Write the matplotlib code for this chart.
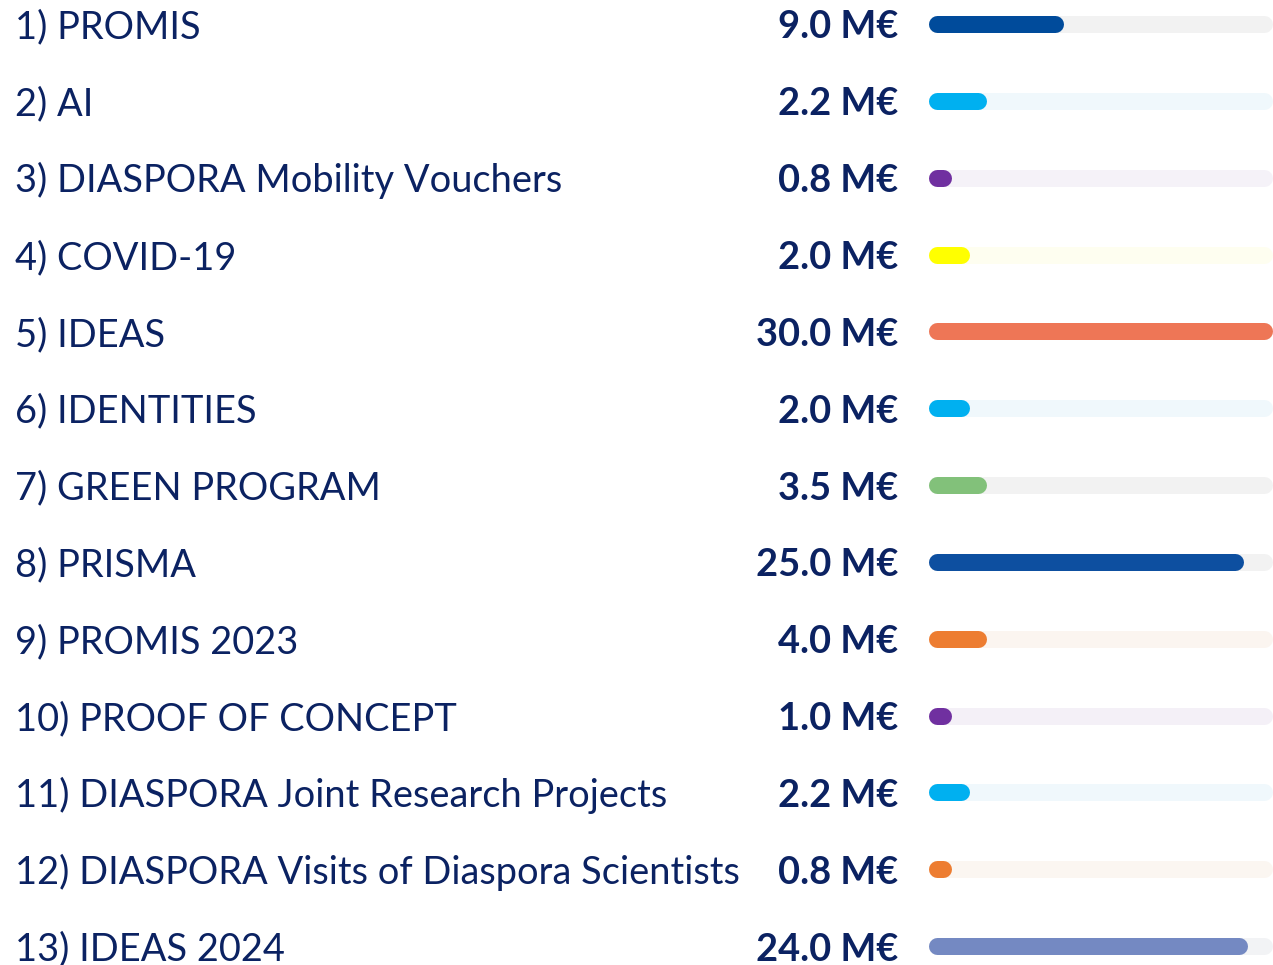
import matplotlib.pyplot as plt
from matplotlib.transforms import blended_transform_factory

labels = ['1) PROMIS', '2) AI', '3) DIASPORA Mobility Vouchers', '4) COVID-19',
          '5) IDEAS', '6) IDENTITIES', '7) GREEN PROGRAM', '8) PRISMA',
          '9) PROMIS 2023', '10) PROOF OF CONCEPT',
          '11) DIASPORA Joint Research Projects',
          '12) DIASPORA Visits of Diaspora Scientists', '13) IDEAS 2024']
budget = [9.0, 2.2, 0.8, 2.0, 30.0, 2.0, 3.5, 25.0, 4.0, 1.0, 2.2, 0.8, 24.0]
# bar fill (% of track) as drawn in the picture
fill_pct = [39.4, 17, 6.7, 12, 100, 12, 17, 91.6, 17, 6.7, 12, 6.7, 93]
bar_colors = ['#004b9b', '#00b0f0', '#7030a0', '#ffff00', '#ee7656', '#00b0f0',
              '#82c17a', '#0d4fa0', '#ed7d31', '#7030a0', '#00b0f0', '#ed7d31',
              '#7489c2']
track_colors = ['#f2f2f2', '#f0f8fc', '#f5f2f8', '#fefef0', '#f2f2f2', '#f0f8fc',
                '#f2f2f2', '#f2f2f2', '#fbf5f0', '#f4f0f7', '#f0f8fc', '#fbf6f1',
                '#f2f3f5']

navy = '#0b2262'
W, H = 1273, 965
fig = plt.figure(figsize=(W / 100, H / 100), dpi=100)
ax = fig.add_axes([928 / W, 0, (1272 - 928) / W, 1])
ax.set_xlim(0, 100)
n = len(labels)
step = (946 - 24) / (n - 1)
ax.set_ylim(n - 1 + (H - 946) / step, -24 / step)
ax.axis('off')

lw_px = 17
r = lw_px / 2 / ((1272 - 928) / 100)  # cap radius in data units
lw_pt = lw_px * 72 / 100

for i in range(n):
    ax.plot([r, 100 - r], [i, i], color=track_colors[i], lw=lw_pt,
            solid_capstyle='round', clip_on=False)
    end = max(fill_pct[i] - r, r + 0.01)
    ax.plot([r, end], [i, i], color=bar_colors[i], lw=lw_pt,
            solid_capstyle='round', clip_on=False)

tr = blended_transform_factory(fig.transFigure, ax.transData)
off = 14.5 / step
for i in range(n):
    ax.text(15 / W, i + off, labels[i], transform=tr, ha='left', va='baseline',
            fontsize=27.4, color=navy, family='Lato', clip_on=False)
    ax.text(898 / W, i + off, f'{budget[i]:.1f} M€', transform=tr, ha='right',
            va='baseline', fontsize=27.4, fontweight='bold', color=navy,
            family='Lato', clip_on=False)

fig.savefig('out.png', dpi=100)
